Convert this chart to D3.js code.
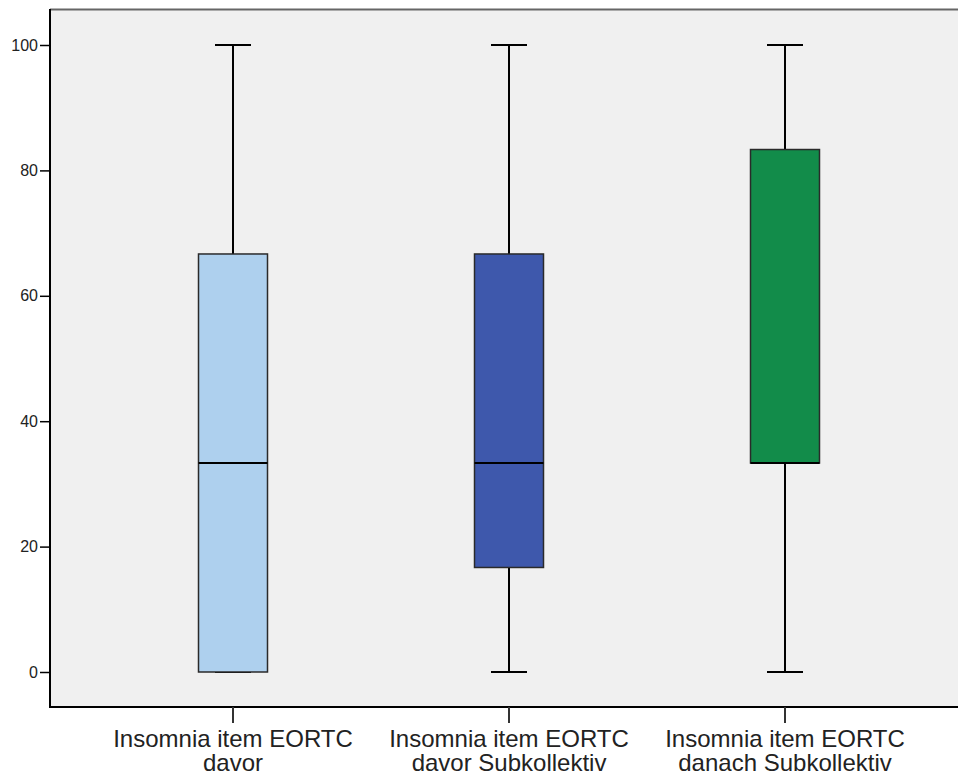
<!DOCTYPE html>
<html>
<head>
<meta charset="utf-8">
<script src="https://cdn.jsdelivr.net/npm/d3@7"></script>
<style>
  body { margin: 0; background: #fff; }
  svg { display: block; font-family: "Liberation Sans", Arial, sans-serif; }
</style>
</head>
<body>
<svg id="chart" width="958" height="776"></svg>
<script>
// Box plot values
const categories = [
    ['Insomnia item EORTC', 'davor'],
    ['Insomnia item EORTC', 'davor Subkollektiv'],
    ['Insomnia item EORTC', 'danach Subkollektiv']
];
const minValues = [0, 0, 0];
const q1Values = [0, 16.67, 33.33];
const medianValues = [33.33, 33.33, 33.33];
const q3Values = [66.67, 66.67, 83.33];
const maxValues = [100, 100, 100];
const boxColors = ['#aed0ee', '#3e58ac', '#128c4a'];
const yTicks = [0, 20, 40, 60, 80, 100];

const svg = d3.select('#chart');

const plot = {left: 50, top: 9, right: 960, bottom: 707};

const x = d3.scalePoint()
    .domain(d3.range(categories.length))
    .range([233, 785]);

const y = d3.scaleLinear()
    .domain([0, 100])
    .range([672, 45]);

const boxWidth = 69;
const capWidth = 36;

// Plot background
svg.append('rect')
    .attr('x', plot.left)
    .attr('y', plot.top)
    .attr('width', plot.right - plot.left)
    .attr('height', plot.bottom - plot.top)
    .attr('fill', '#f0f0f0');

// Top border (gray)
svg.append('line')
    .attr('x1', plot.left).attr('x2', plot.right)
    .attr('y1', plot.top + 0.5).attr('y2', plot.top + 0.5)
    .attr('stroke', '#666').attr('stroke-width', 2);

const data = categories.map((c, i) => ({
    i: i,
    min: minValues[i],
    q1: q1Values[i],
    median: medianValues[i],
    q3: q3Values[i],
    max: maxValues[i],
    color: boxColors[i]
}));

const groups = svg.selectAll('.box')
    .data(data)
    .enter()
    .append('g')
    .attr('class', 'box');

// Whiskers
groups.append('line')
    .attr('x1', d => x(d.i)).attr('x2', d => x(d.i))
    .attr('y1', d => y(d.max)).attr('y2', d => y(d.q3))
    .attr('stroke', '#000').attr('stroke-width', 2);
groups.append('line')
    .attr('x1', d => x(d.i)).attr('x2', d => x(d.i))
    .attr('y1', d => y(d.q1)).attr('y2', d => y(d.min))
    .attr('stroke', '#000').attr('stroke-width', 2);

// Caps
groups.append('line')
    .attr('x1', d => x(d.i) - capWidth / 2).attr('x2', d => x(d.i) + capWidth / 2)
    .attr('y1', d => y(d.max)).attr('y2', d => y(d.max))
    .attr('stroke', '#000').attr('stroke-width', 2);
groups.append('line')
    .attr('x1', d => x(d.i) - capWidth / 2).attr('x2', d => x(d.i) + capWidth / 2)
    .attr('y1', d => y(d.min)).attr('y2', d => y(d.min))
    .attr('stroke', '#000').attr('stroke-width', 2);

// Boxes
groups.append('rect')
    .attr('x', d => x(d.i) - boxWidth / 2)
    .attr('y', d => y(d.q3))
    .attr('width', boxWidth)
    .attr('height', d => y(d.q1) - y(d.q3))
    .attr('fill', d => d.color)
    .attr('stroke', '#2a2a2a')
    .attr('stroke-width', 1.5);

// Median
groups.append('line')
    .attr('x1', d => x(d.i) - boxWidth / 2).attr('x2', d => x(d.i) + boxWidth / 2)
    .attr('y1', d => y(d.median)).attr('y2', d => y(d.median))
    .attr('stroke', '#000').attr('stroke-width', 2);

// Y axis
const yAxis = svg.append('g')
    .attr('transform', `translate(${plot.left},0)`)
    .call(d3.axisLeft(y).tickValues(yTicks).tickSize(10).tickSizeOuter(0).tickFormat(d3.format('d')));
yAxis.select('.domain').remove();
yAxis.selectAll('.tick line').attr('stroke', '#000').attr('stroke-width', 1.5);
yAxis.selectAll('.tick text')
    .attr('x', -12)
    .style('font-size', '16px')
    .style('font-family', '"Liberation Sans", Arial, sans-serif')
    .attr('fill', '#222');

svg.append('line')
    .attr('x1', plot.left).attr('x2', plot.left)
    .attr('y1', plot.top).attr('y2', plot.bottom + 1)
    .attr('stroke', '#000').attr('stroke-width', 2);

// X axis
svg.append('line')
    .attr('x1', plot.left - 1).attr('x2', plot.right)
    .attr('y1', plot.bottom).attr('y2', plot.bottom)
    .attr('stroke', '#000').attr('stroke-width', 2);

const xTicks = svg.selectAll('.xtick')
    .data(categories)
    .enter()
    .append('g')
    .attr('class', 'xtick')
    .attr('transform', (d, i) => `translate(${x(i)},${plot.bottom})`);

xTicks.append('line')
    .attr('y1', 0).attr('y2', 16)
    .attr('stroke', '#333').attr('stroke-width', 2);

xTicks.append('text')
    .attr('text-anchor', 'middle')
    .attr('fill', '#222')
    .style('font-size', '24px')
    .selectAll('tspan')
    .data(d => d)
    .enter()
    .append('tspan')
    .attr('x', 0)
    .attr('y', (d, j) => 40 + j * 24)
    .text(d => d);
</script>
</body>
</html>
